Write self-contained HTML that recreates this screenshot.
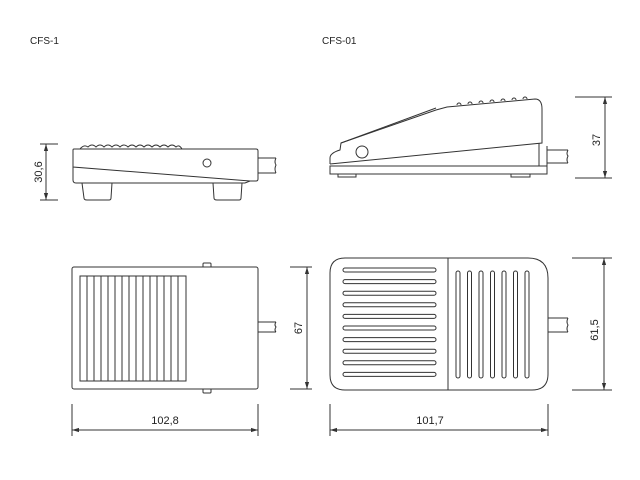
<!DOCTYPE html>
<html><head><style>body{margin:0;background:#fff}svg{display:block}text{font-family:"Liberation Sans",sans-serif;fill:#222}</style></head><body>
<svg width="640" height="480" viewBox="0 0 640 480" fill="none" stroke="#333" stroke-width="1">
<defs><marker id="a" viewBox="0 0 10 10" refX="10" refY="5" markerWidth="7" markerHeight="7" orient="auto-start-reverse"><path d="M0,2 L10,5 L0,8z" fill="#333" stroke="none"/></marker></defs>
<text x="30" y="44" font-size="10" stroke="none">CFS-1</text>
<text x="322" y="44" font-size="10" stroke="none">CFS-01</text>
<!-- left side view -->
<path d="M80,149 q4,-5 8,-2 q4,-4 8,0 q4,-4 8,0 q4,-4 8,0 q4,-4 8,0 q4,-4 8,0 q4,-4 8,0 q4,-4 8,0 q4,-4 8,0 q4,-4 8,0 q4,-4 8,0 q4,-4 8,0 q3,-3 6,2"/>
<path d="M74,149 H256 q2,0 2,2 V179 q0,2 -2,2 H250 L73,167 V150 q0,-1 1,-1z"/>
<path d="M73,167 V180 q0,3 3,3 H245 L250,181"/>
<path d="M82,183 l2,15 q0,2 3,2 h22 q2,0 2,-2 l1,-15"/>
<path d="M213,183 l1,15 q0,2 3,2 h22 q2,0 2,-2 l1,-15"/>
<circle cx="207" cy="163" r="4"/>
<path d="M258,158 H276 M258,173 H276 M276,158 q-2,4 0,7 q-2,4 0,8"/>
<path d="M40,144 H58 M40,200 H58"/><path d="M46,144 V200" marker-start="url(#a)" marker-end="url(#a)"/>
<text transform="translate(42,172) rotate(-90)" font-size="11" stroke="none" text-anchor="middle">30,6</text>
<!-- right side view -->
<path d="M330,166 H547 V174 H330z"/>
<path d="M338,174 v3 h18 v-3 M511,174 v3 h19 v-3"/>
<path d="M330,164 V158 q0,-5 10,-8 L341,143 L436,110 L447,107 L535,99 q7,0 7,10 V143 L330,164"/>
<path d="M341,143 L436,108"/>
<path d="M539,143 V166 M547,146 V166"/>
<circle cx="362" cy="152" r="6"/>
<path d="M457,105 a2,2 0 0 1 4,0 M468,104 a2,2 0 0 1 4,0 M479,103 a2,2 0 0 1 4,0 M490,102 a2,2 0 0 1 4,0 M501,101 a2,2 0 0 1 4,0 M512,100 a2,2 0 0 1 4,0 M523,99 a2,2 0 0 1 4,0"/>
<path d="M547,150 H568 M547,163 H568 M568,150 q-2,4 0,6 q-2,4 0,7"/>
<path d="M575,97 H612 M575,178 H612"/><path d="M605,97 V178" marker-start="url(#a)" marker-end="url(#a)"/>
<text transform="translate(600,140) rotate(-90)" font-size="11" stroke="none" text-anchor="middle">37</text>
<!-- bottom left top view -->
<rect x="72" y="267" width="186" height="122" rx="2"/>
<rect x="80" y="276" width="106" height="105"/>
<path d="M87,276V381M94,276V381M101,276V381M108,276V381M115,276V381M122,276V381M129,276V381M136,276V381M143,276V381M150,276V381M157,276V381M164,276V381M171,276V381M178,276V381"/>
<path d="M203,267 v-3 q0,-1 1,-1 h6 q1,0 1,1 v3 M203,389 v3 q0,1 1,1 h6 q1,0 1,-1 v-3"/>
<path d="M258,322 H276 M258,332 H276 M276,322 q-2,3 0,5 q-2,3 0,5"/>
<path d="M290,267 H312 M290,389 H312"/><path d="M307,267 V389" marker-start="url(#a)" marker-end="url(#a)"/>
<text transform="translate(302,328) rotate(-90)" font-size="11" stroke="none" text-anchor="middle">67</text>
<path d="M72,404 V436 M258,404 V436"/><path d="M72,430 H258" marker-start="url(#a)" marker-end="url(#a)"/>
<text x="165" y="424" font-size="11" stroke="none" text-anchor="middle">102,8</text>
<!-- bottom right top view -->
<path d="M345,258 H528 q20,0 20,20 V374 q0,16 -16,16 H345 q-15,0 -15,-15 V273 q0,-15 15,-15z"/>
<path d="M448,258 V390"/>
<g>
<rect x="343" y="268" width="93" height="4" rx="2"/><rect x="343" y="279.6" width="93" height="4" rx="2"/><rect x="343" y="291.2" width="93" height="4" rx="2"/><rect x="343" y="302.8" width="93" height="4" rx="2"/><rect x="343" y="314.4" width="93" height="4" rx="2"/><rect x="343" y="326" width="93" height="4" rx="2"/><rect x="343" y="337.6" width="93" height="4" rx="2"/><rect x="343" y="349.2" width="93" height="4" rx="2"/><rect x="343" y="360.8" width="93" height="4" rx="2"/><rect x="343" y="372.4" width="93" height="4" rx="2"/>
<rect x="456" y="271" width="4" height="107" rx="2"/><rect x="467.5" y="271" width="4" height="107" rx="2"/><rect x="479" y="271" width="4" height="107" rx="2"/><rect x="490.5" y="271" width="4" height="107" rx="2"/><rect x="502" y="271" width="4" height="107" rx="2"/><rect x="513.5" y="271" width="4" height="107" rx="2"/><rect x="525" y="271" width="4" height="107" rx="2"/>
</g>
<path d="M548,318 H568 M548,332 H568 M568,318 q-2,4 0,7 q-2,4 0,7"/>
<path d="M572,258 H612 M572,390 H612"/><path d="M604,258 V390" marker-start="url(#a)" marker-end="url(#a)"/>
<text transform="translate(598,330) rotate(-90)" font-size="11" stroke="none" text-anchor="middle">61,5</text>
<path d="M330,404 V436 M548,404 V436"/><path d="M330,430 H548" marker-start="url(#a)" marker-end="url(#a)"/>
<text x="430" y="424" font-size="11" stroke="none" text-anchor="middle">101,7</text>
</svg>
</body></html>
